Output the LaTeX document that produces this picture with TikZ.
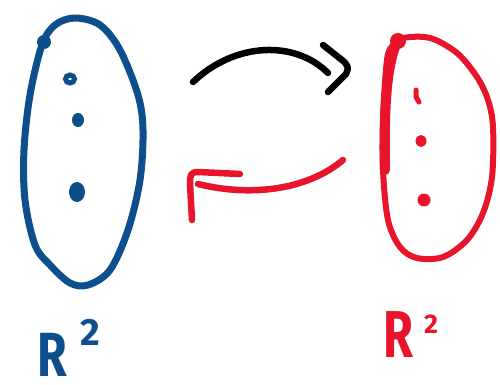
\documentclass[tikz,border=0pt]{standalone}
\usepackage{fontspec}
\setmainfont{Fira Sans}
\definecolor{pblue}{HTML}{0C4F8C}
\definecolor{pred}{HTML}{E8142B}
\begin{document}
\begin{tikzpicture}[x=1pt,y=-1pt,
  pen/.style={line width=6.5pt,line cap=round,line join=round},
  lbl/.style={anchor=base west,inner sep=0pt,text depth=0pt}]
\useasboundingbox (0,0) rectangle (500,385);
% left blue set
\draw[pen,pblue,line width=7pt] plot[smooth cycle,tension=0.55] coordinates {
 (42,45) (55,25) (75,18) (100,25) (120,50) (138,95) (143,130) (140,180)
 (128,230) (110,270) (88,285) (70,283) (50,265) (35,245) (25,200) (24,150) (30,95)};
\fill[pblue] (44,42) circle (7pt);
\draw[pblue,line width=5pt] (70,79) ellipse (4.5pt and 4pt);
\fill[pblue] (78,120) ellipse (6pt and 7pt);
\fill[pblue] (77,192) ellipse (8pt and 10pt);
% right red set
\draw[pen,pred,line width=6pt] plot[smooth cycle,tension=0.55] coordinates {
 (393,45) (403,38) (430,38) (457,53) (477,77) (488,100) (493,127) (492,177)
 (483,213) (467,240) (443,257) (417,258) (400,247) (388,220) (383,170) (383,120) (387,60)};
\draw[pred,line width=10pt,line cap=round] (396,44) .. controls (386,70) and (384,110) .. (385,170);
\fill[pred] (398,41) circle (8pt);
\draw[pred,line width=5pt,line cap=round] (416,90) -- (416,97) -- (419,102);
\fill[pred] (421,141) ellipse (5.5pt and 6pt);
\fill[pred] (424,200) ellipse (6.5pt and 6.5pt);
% black arrow (top)
\coordinate (a1) at (193,82);
\coordinate (a2) at (328,73);
\draw[pen,black] (a1) .. controls (235,42) and (295,40) .. (a2);
\draw[pen,black] (323,45) -- (342,60) .. controls (350,66) and (349,72) .. (343,77) -- (328,92);
% red arrow (bottom)
\coordinate (b1) at (343,160);
\coordinate (b2) at (198,184);
\draw[pen,pred] (b1) .. controls (310,188) and (255,198) .. (b2);
\draw[pen,pred] (240,174) -- (198,172) .. controls (190,172) and (190,176) .. (190,184) -- (192,220);
% labels
\node[lbl,text=pblue] (l1) at (37,376) {\bfseries\scalebox{1.0}[1.3]{\fontsize{48}{48}\selectfont R}\hspace{14pt}\raisebox{31pt}{\fontsize{38}{38}\selectfont 2}};
\node[lbl,text=pred] (l2) at (383,357) {\bfseries\scalebox{0.95}[1.3]{\fontsize{51}{51}\selectfont R}\hspace{11pt}\raisebox{24pt}{\fontsize{27}{27}\selectfont 2}};
\end{tikzpicture}
\end{document}
